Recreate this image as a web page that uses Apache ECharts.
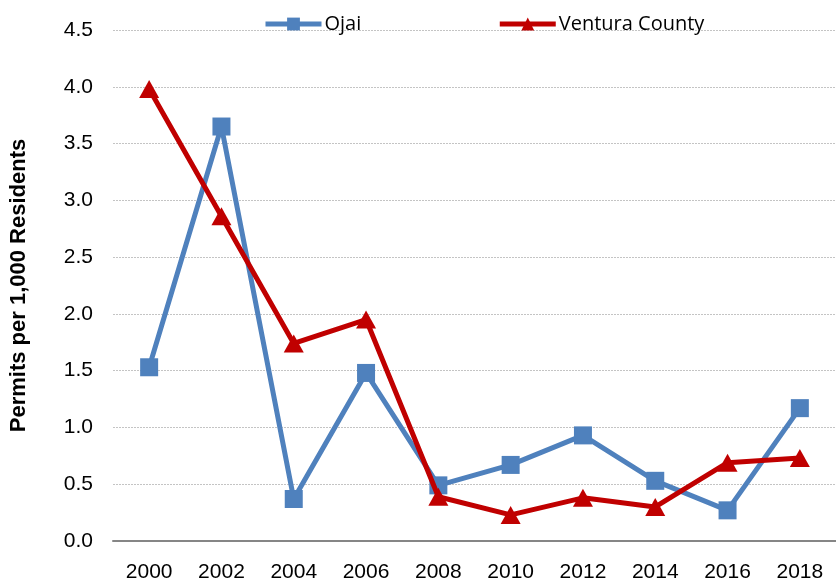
<!DOCTYPE html>
<html>
<head>
<meta charset="utf-8">
<script src="https://cdn.jsdelivr.net/npm/echarts@6/dist/echarts.min.js"></script>
<style>
  html, body { margin: 0; padding: 0; background: #fff; }
  #chart { width: 836px; height: 585px; }
</style>
</head>
<body>
<div id="chart"></div>
<script type="text/javascript">
// data
var years = ['2000', '2002', '2004', '2006', '2008', '2010', '2012', '2014', '2016', '2018'];
var ojai = [1.53, 3.65, 0.37, 1.48, 0.49, 0.67, 0.93, 0.53, 0.27, 1.17];
var ventura = [3.98, 2.86, 1.74, 1.95, 0.39, 0.23, 0.38, 0.30, 0.69, 0.73];
var yTicks = [0, 0.5, 1, 1.5, 2, 2.5, 3, 3.5, 4, 4.5];

var narrow = '"Liberation Sans Narrow", "Arial Narrow", sans-serif';

var chart = echarts.init(document.getElementById('chart'));
var option = {
	animation: false,
	legend: {
		left: 258,
		top: 9,
		itemWidth: 56,
		itemHeight: 16,
		itemGap: 136,
		lineStyle: { width: 5 },
		textStyle: { fontSize: 20, color: '#000', fontFamily: '"Open Sans", sans-serif', padding: [0, 0, 0, -2] },
		data: ['Ojai', 'Ventura County']
	},
	grid: { left: 112, top: 30, width: 738, height: 511 },
	xAxis: {
		type: 'category',
		data: years,
		boundaryGap: true,
		axisLine: { lineStyle: { color: '#868686', width: 2 } },
		axisTick: { show: false },
		axisLabel: { fontSize: 21, color: '#000', margin: 21, fontFamily: narrow, interval: 0 }
	},
	yAxis: {
		type: 'value',
		min: yTicks[0],
		max: yTicks[yTicks.length - 1],
		interval: 0.5,
		name: 'Permits per 1,000 Residents',
		nameLocation: 'middle',
		nameGap: 83,
		nameTextStyle: { fontSize: 22, fontWeight: 'bold', color: '#000', fontFamily: 'Liberation Sans, Arial, sans-serif' },
		axisLine: { show: false },
		axisTick: { show: false },
		axisLabel: {
			fontSize: 21, color: '#000', margin: 20, fontFamily: narrow,
			formatter: function (v) { return v.toFixed(1); }
		},
		splitLine: { lineStyle: { color: '#c4c4c4', type: [2, 1], width: 1 } }
	},
	series: [
		{
			name: 'Ojai',
			type: 'line',
			data: ojai,
			symbol: 'rect',
			symbolSize: 18,
			lineStyle: { color: '#4F81BD', width: 5 },
			itemStyle: { color: '#4F81BD' },
			z: 2
		},
		{
			name: 'Ventura County',
			type: 'line',
			data: ventura,
			symbol: 'triangle',
			symbolSize: [20, 18],
			lineStyle: { color: '#C00000', width: 5 },
			itemStyle: { color: '#C00000' },
			z: 3
		}
	]
};
chart.setOption(option);
</script>
</body>
</html>
